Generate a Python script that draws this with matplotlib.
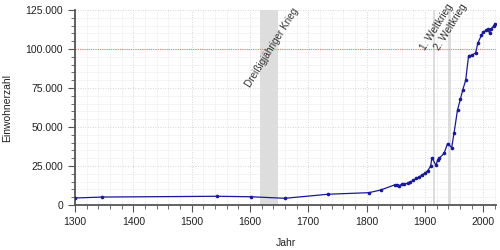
import matplotlib
matplotlib.use("Agg")
import matplotlib.pyplot as plt
from matplotlib.ticker import FuncFormatter, MultipleLocator

plt.rcParams['font.family'] = ['Liberation Sans', 'DejaVu Sans']

# population data
years = [1300, 1347, 1543, 1601, 1660, 1734, 1804, 1824, 1849, 1852, 1856, 1861,
         1864, 1871, 1875, 1880, 1885, 1890, 1895, 1900, 1905, 1910, 1912, 1919,
         1922, 1925, 1933, 1939, 1946, 1950, 1956, 1961, 1965, 1970, 1975, 1980,
         1987, 1991, 1997, 2000, 2005, 2008, 2011, 2013, 2018, 2020]
pop = [4500, 5100, 5600, 5300, 4300, 6900, 7900, 9600, 13000, 12900, 12400, 13400,
       13600, 13900, 14600, 15800, 17000, 18000, 19200, 20500, 22000, 25000, 30400, 25500,
       28900, 30000, 33200, 39400, 36800, 46000, 61000, 67900, 73900, 79900, 95800, 95900,
       97500, 103900, 108800, 110700, 111900, 112700, 110100, 112700, 114800, 116100]

spans = [(1618, 1648), (1914, 1918), (1939, 1945)]
span_labels = ["Dreißigjähriger Krieg", "1. Weltkrieg", "2. Weltkrieg"]
label_x = [1600, 1900, 1925]
label_y = [75000, 98500, 98500]

fig = plt.figure(figsize=(5, 2.5), dpi=100)
ax = fig.add_axes([0.15, 0.18, 0.842, 0.78])

for (a, b) in spans:
    ax.axvspan(a, b, color='#dddddd', lw=0, zorder=1)
for t, x, y in zip(span_labels, label_x, label_y):
    ax.text(x, y, t, rotation=58, ha='left', va='baseline', fontsize=7.2,
            color='#333333', rotation_mode='anchor', zorder=3)

ax.axhline(100000, color='#e88080', lw=0.8, ls=(0, (1, 1)), zorder=2)

ax.plot(years, pop, color='#1a1a99', lw=0.9, marker='o', ms=1.6, zorder=4)

ax.set_xlim(1300, 2022)
ax.set_ylim(0, 125000)
ax.xaxis.set_major_locator(MultipleLocator(100))
ax.xaxis.set_minor_locator(MultipleLocator(20))
ax.yaxis.set_major_locator(MultipleLocator(25000))
ax.yaxis.set_minor_locator(MultipleLocator(5000))
ax.yaxis.set_major_formatter(FuncFormatter(lambda v, p: f"{int(v):,}".replace(",", ".")))

ax.grid(which='major', color='#c8c8c8', lw=0.6, ls=(0, (1, 2)))
ax.grid(which='minor', color='#f0f0f0', lw=0.5)
ax.set_axisbelow(True)

for s in ['top', 'right']:
    ax.spines[s].set_visible(False)
for s in ['left', 'bottom']:
    ax.spines[s].set_color('#555555')
    ax.spines[s].set_linewidth(1.3)
ax.tick_params(which='both', colors='#555555', labelcolor='#222222', labelsize=7.5)
ax.tick_params(which='major', length=5)
ax.tick_params(which='minor', length=3)

ax.set_xlabel("Jahr", fontsize=7.5, color='#222222')
ax.set_ylabel("Einwohnerzahl", fontsize=7.5, color='#222222')
ax.xaxis.set_label_coords(0.5, -0.17)
ax.yaxis.set_label_coords(-0.15, 0.5)

fig.savefig("out.png", dpi=100)
